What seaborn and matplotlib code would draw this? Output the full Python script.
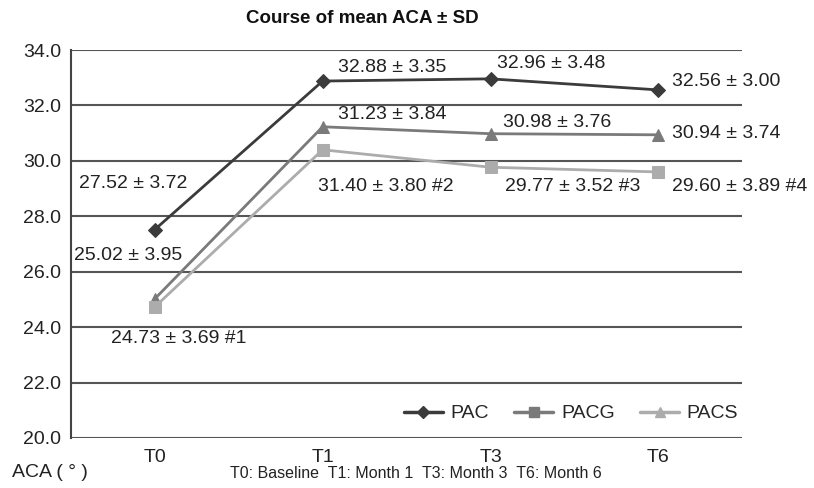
import matplotlib
matplotlib.use("Agg")
import matplotlib.pyplot as plt
from matplotlib.lines import Line2D
import seaborn as sns
import pandas as pd

# Data
times = ["T0", "T1", "T3", "T6"]
pac = [27.52, 32.88, 32.96, 32.56]
pacg = [25.02, 31.23, 30.98, 30.94]
pacs = [24.73, 30.40, 29.77, 29.60]

pac_labels = ["27.52 ± 3.72", "32.88 ± 3.35", "32.96 ± 3.48", "32.56 ± 3.00"]
pacg_labels = ["25.02 ± 3.95", "31.23 ± 3.84", "30.98 ± 3.76", "30.94 ± 3.74"]
pacs_labels = ["24.73 ± 3.69 #1", "31.40 ± 3.80 #2", "29.77 ± 3.52 #3", "29.60 ± 3.89 #4"]

# label offsets from each point (category units, data units)
pac_off = [(-0.13, 1.65), (0.09, 0.5), (0.04, 0.57), (0.08, 0.29)]
pacg_off = [(-0.16, 1.55), (0.09, 0.45), (0.075, 0.39), (0.08, 0.03)]
pacs_off = [(0.14, -1.13), (-0.03, -1.34), (0.085, -0.71), (0.08, -0.54)]

col_pac = "#3b3b3b"
col_pacg = "#7a7a7a"
col_pacs = "#acacac"

df = pd.DataFrame({
    "time": times * 3,
    "aca": pac + pacg + pacs,
    "group": ["PAC"] * 4 + ["PACG"] * 4 + ["PACS"] * 4,
})

sns.set_style("white")
plt.rcParams["font.family"] = ["Liberation Sans", "DejaVu Sans"]

fig = plt.figure(figsize=(8.14, 4.88), dpi=100)
ax = fig.add_axes([0.087, 0.1025, 0.825, 0.795])

styles = {"PAC": (col_pac, "D", 7), "PACG": (col_pacg, "^", 9), "PACS": (col_pacs, "s", 9)}
for name, (c, m, ms) in styles.items():
    sub = df[df["group"] == name]
    sns.lineplot(data=sub, x="time", y="aca", color=c, marker=m, markersize=ms,
                 markeredgecolor=c, linewidth=2, ax=ax, legend=False, sort=False)

for vals, labs, offs in [(pac, pac_labels, pac_off), (pacg, pacg_labels, pacg_off),
                         (pacs, pacs_labels, pacs_off)]:
    for i, (v, lab, (dx, dy)) in enumerate(zip(vals, labs, offs)):
        ha = "center" if i == 0 else "left"
        ax.text(i + dx, v + dy, lab, fontsize=14, color="#222222", ha=ha, va="center")

ax.set_ylim(20, 34)
ax.set_xlim(-0.5, 3.5)
ax.set_yticks(range(20, 35, 2))
ax.set_yticklabels([f"{t:.1f}" for t in range(20, 35, 2)], fontsize=14, color="#222222")
ax.set_xticks(range(4))
ax.set_xticklabels(times, fontsize=14, color="#222222")
ax.tick_params(axis="y", length=0, pad=7)
ax.tick_params(axis="x", length=0, pad=8)
ax.yaxis.grid(True, color="#555555", linewidth=1.5)
ax.set_axisbelow(True)
for s in ["top", "right", "bottom"]:
    ax.spines[s].set_visible(False)
ax.spines["left"].set_color("#444444")
ax.spines["left"].set_linewidth(1.5)
ax.set_xlabel("")
ax.set_ylabel("")

fig.text(0.445, 0.963, "Course of mean ACA ± SD", fontsize=13.5, fontweight="bold",
         ha="center", va="center", color="#111111")

handles = [
    Line2D([], [], color=col_pac, marker="D", markersize=6, linewidth=2.5),
    Line2D([], [], color=col_pacg, marker="s", markersize=7, linewidth=2.5),
    Line2D([], [], color=col_pacs, marker="^", markersize=7, linewidth=2.5),
]
ax.legend(handles, ["PAC", "PACG", "PACS"], ncol=3, frameon=False, fontsize=14,
          loc="lower right", bbox_to_anchor=(1.02, -0.005), handlelength=2.0,
          columnspacing=1.3, handletextpad=0.4)

fig.text(0.015, 0.031, "ACA ( ° )", fontsize=14, color="#222222", va="center")
fig.text(0.283, 0.029, "T0: Baseline  T1: Month 1  T3: Month 3  T6: Month 6",
         fontsize=11.5, color="#222222", va="center")

fig.savefig("out.png", dpi=100)
